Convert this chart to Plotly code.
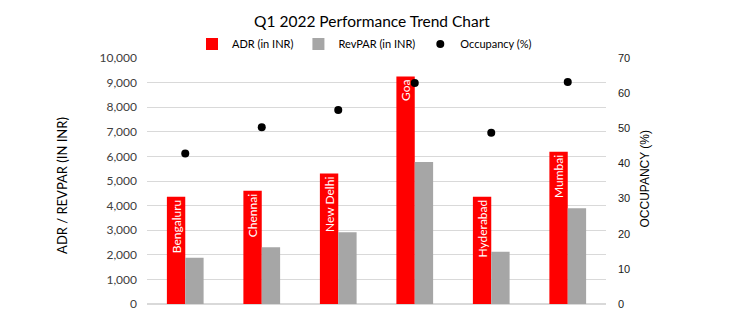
import plotly.graph_objects as go

cities = ["Bengaluru", "Chennai", "New Delhi", "Goa", "Hyderabad", "Mumbai"]
adr = [4360, 4600, 5300, 9250, 4360, 6190]
revpar = [1880, 2310, 2920, 5770, 2120, 3890]
occupancy = [42.8, 50.3, 55.2, 62.9, 48.7, 63.2]
left_ticks = list(range(0, 10001, 1000))
right_ticks = list(range(0, 71, 10))

FONT = "Lato"
W, H = 744, 334
L, R, T, B = 147, 138, 58, 30

fig = go.Figure()
fig.add_trace(go.Bar(
    x=cities, y=adr, name="ADR (in INR)", marker=dict(color="#ff0000", line=dict(width=0)),
    text=cities, textposition="inside", insidetextanchor="end", textangle=-90,
    textfont=dict(color="white", size=12, family=FONT),
))
fig.add_trace(go.Bar(
    x=cities, y=revpar, name="RevPAR (in INR)", marker=dict(color="#a6a6a6", line=dict(width=0)),
))
fig.add_trace(go.Scatter(
    x=cities, y=occupancy, name="Occupancy (%)", mode="markers", yaxis="y2",
    marker=dict(color="black", size=8),
))

pw = W - L - R
ph = H - T - B
fig.update_layout(
    width=W, height=H,
    margin=dict(l=L, r=R, t=T, b=B, pad=0, autoexpand=False),
    paper_bgcolor="white", plot_bgcolor="white",
    font=dict(family=FONT, size=12, color="#404040"),
    uniformtext=dict(minsize=12, mode="show"),
    barmode="group", bargap=0.52, bargroupgap=0,
    title=dict(text="Q1 2022 Performance Trend Chart", x=0.5, xanchor="center",
               y=1 - 22 / H, yanchor="middle", yref="container",
               font=dict(family=FONT, size=15.5, color="black")),
    legend=dict(orientation="h", x=0.5 - 12 / pw, xanchor="center", y=1 + (T - 44) / ph,
                yanchor="middle", font=dict(family=FONT, size=11, color="black"),
                itemwidth=30, bgcolor="rgba(0,0,0,0)", tracegroupgap=0),
    xaxis=dict(showticklabels=False, showline=False, ticks="", showgrid=False),
    yaxis=dict(range=[0, 10000], tickvals=left_ticks, tickformat=",", showgrid=True,
               gridcolor="#d9d9d9", gridwidth=1, zeroline=True, zerolinecolor="#d9d9d9",
               ticks="", ticklabelstandoff=9, tickfont=dict(size=12, color="#404040")),
    yaxis2=dict(range=[0, 70], tickvals=right_ticks, overlaying="y", side="right",
                showgrid=False, zeroline=False, ticks="", ticklabelstandoff=11,
                tickfont=dict(family="Liberation Sans", size=11, color="#1a1a1a")),
    showlegend=True,
    annotations=[
        dict(text="ADR / REVPAR (IN INR)", xref="paper", yref="paper",
             x=(62 - L) / pw, y=0.48, textangle=-90, showarrow=False,
             xanchor="center", yanchor="middle",
             font=dict(family=FONT, size=13, color="black")),
        dict(text="OCCUPANCY (%)", xref="paper", yref="paper",
             x=(645 - L) / pw, y=0.51, textangle=-90, showarrow=False,
             xanchor="center", yanchor="middle",
             font=dict(family="Liberation Sans", size=12, color="black")),
    ],
)
fig.write_html("out.html")
